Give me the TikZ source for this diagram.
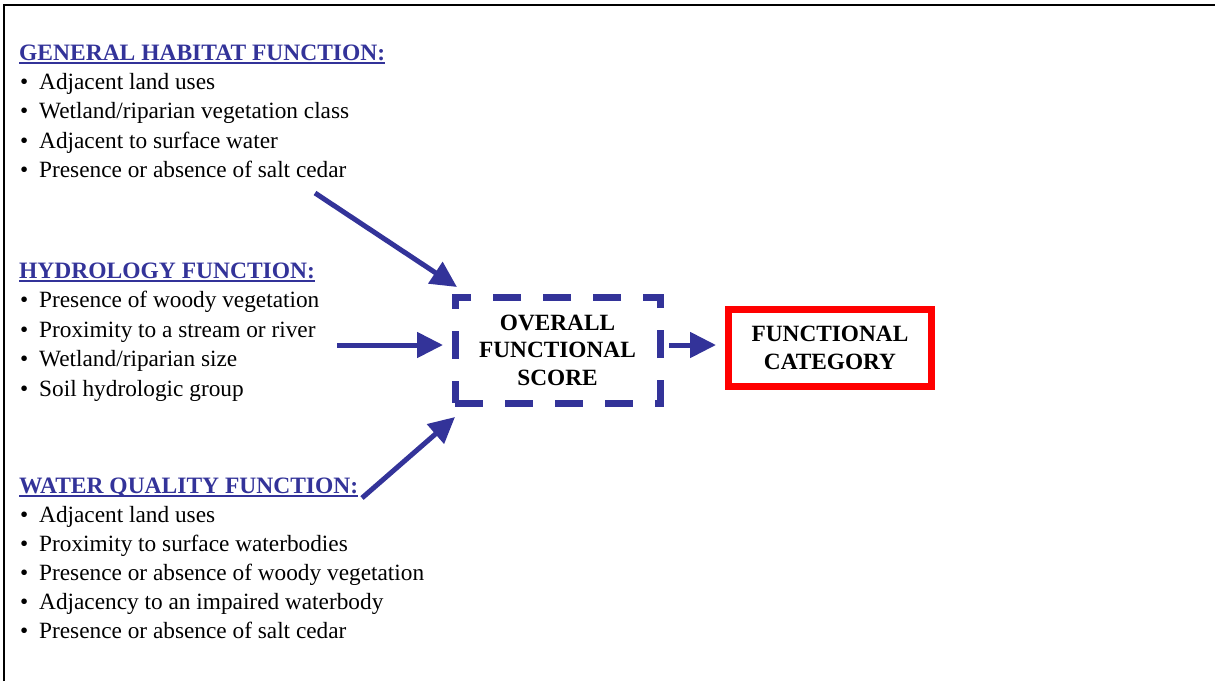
\documentclass[tikz,border=0pt]{standalone}
\usepackage{fontspec}
\setmainfont{Liberation Serif}
\usetikzlibrary{arrows.meta}
\definecolor{fnblue}{RGB}{51,51,153}
\definecolor{fnred}{RGB}{255,0,0}
\begin{document}
\begin{tikzpicture}[x=1pt,y=-1pt,
  txt/.style={font=\fontsize{23.3}{29}\selectfont, inner sep=0pt, anchor=base west, text=black},
  hd/.style={txt, font=\fontsize{23.5}{29}\selectfont\bfseries, text=fnblue},
  uline/.style={draw=fnblue, line width=1.8pt},
  arr/.style={draw=fnblue, line width=5pt, -{Triangle[length=26pt,width=25pt]}},
  scorebox/.style={draw=fnblue, line width=7pt, dash pattern=on 28pt off 22pt, dash phase=0pt,
     minimum width=205pt, minimum height=106pt, inner sep=0pt, align=center,
     font=\fontsize{23.3}{27.5}\selectfont\bfseries},
  catbox/.style={draw=fnred, line width=7pt, minimum width=203pt, minimum height=77pt,
     inner sep=0pt, align=center, font=\fontsize{23.3}{28}\selectfont\bfseries},
  frame/.style={draw=black, line width=2pt}
]
\useasboundingbox (0,0) rectangle (1215,681);
\draw[frame] (4,681) -- (4,5) -- (1215,5);

% General habitat
\node[hd] (h1) at (19,60) {GENERAL HABITAT FUNCTION:};
\draw[uline] ([yshift=-3pt]h1.base west) -- ([yshift=-3pt]h1.base east);
\node[txt] (g1) at (20,89) {\makebox[19pt][l]{•}Adjacent land uses};
\node[txt] (g2) at (20,118.5) {\makebox[19pt][l]{•}Wetland/riparian vegetation class};
\node[txt] (g3) at (20,148) {\makebox[19pt][l]{•}Adjacent to surface water};
\node[txt] (g4) at (20,177) {\makebox[19pt][l]{•}Presence or absence of salt cedar};

% Hydrology
\node[hd] (h2) at (19,278) {HYDROLOGY FUNCTION:};
\draw[uline] ([yshift=-3pt]h2.base west) -- ([yshift=-3pt]h2.base east);
\node[txt] (y1) at (20,307.5) {\makebox[19pt][l]{•}Presence of woody vegetation};
\node[txt] (y2) at (20,337) {\makebox[19pt][l]{•}Proximity to a stream or river};
\node[txt] (y3) at (20,366.5) {\makebox[19pt][l]{•}Wetland/riparian size};
\node[txt] (y4) at (20,396) {\makebox[19pt][l]{•}Soil hydrologic group};

% Water quality
\node[hd] (h3) at (19,493) {WATER QUALITY FUNCTION:};
\draw[uline] ([yshift=-3pt]h3.base west) -- ([yshift=-3pt]h3.base east);
\node[txt] (w1) at (20,522) {\makebox[19pt][l]{•}Adjacent land uses};
\node[txt] (w2) at (20,551.5) {\makebox[19pt][l]{•}Proximity to surface waterbodies};
\node[txt] (w3) at (20,580.5) {\makebox[19pt][l]{•}Presence or absence of woody vegetation};
\node[txt] (w4) at (20,609.5) {\makebox[19pt][l]{•}Adjacency to an impaired waterbody};
\node[txt] (w5) at (20,638.5) {\makebox[19pt][l]{•}Presence or absence of salt cedar};

% Boxes
\node[scorebox] (score) at (557.5,350) {OVERALL\\FUNCTIONAL\\SCORE};
\node[catbox] (cat) at (830,348) {FUNCTIONAL\\CATEGORY};

% Arrows
\coordinate (s1) at (315,193); \coordinate (e1) at (457,287);
\coordinate (s2) at (337,345); \coordinate (e2) at (443,345);
\coordinate (s3) at (362,498); \coordinate (e3) at (455,417);
\draw[arr] (s1) -- (e1);
\draw[arr] (s2) -- (e2);
\draw[arr] (s3) -- (e3);
\draw[arr, shorten <=5.5pt, shorten >=9pt] (score.east |- s2) -- (cat.west |- s2);
\end{tikzpicture}
\end{document}
